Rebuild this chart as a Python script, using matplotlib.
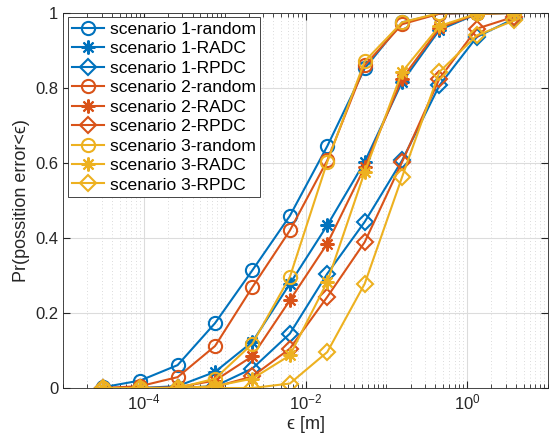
import numpy as np
import matplotlib
matplotlib.use('Agg')
import matplotlib.pyplot as plt
from matplotlib.ticker import FixedLocator, LogLocator, NullFormatter

plt.rcParams['font.family'] = ['Liberation Sans', 'DejaVu Sans']
plt.rcParams['mathtext.fontset'] = 'custom'
plt.rcParams['mathtext.rm'] = 'Liberation Sans'
plt.rcParams['mathtext.it'] = 'Liberation Sans:italic'

# error thresholds where the markers sit [m]
eps = [3.1e-5, 9.0e-5, 2.61e-4, 7.59e-4, 2.2e-3, 6.4e-3,
       1.86e-2, 5.4e-2, 0.157, 0.455, 1.32, 3.84]

s1_random = [0.002, 0.02, 0.061, 0.173, 0.314, 0.459, 0.645, 0.852, 0.975, 0.998, 1.0, 1.0]
s1_radc   = [0.0, 0.0, 0.005, 0.043, 0.123, 0.278, 0.434, 0.603, 0.816, 0.955, 0.997, 1.0]
s1_rpdc   = [0.0, 0.0, 0.0, 0.005, 0.052, 0.145, 0.305, 0.443, 0.607, 0.807, 0.936, 0.985]
s2_random = [0.0, 0.005, 0.029, 0.112, 0.269, 0.42, 0.607, 0.86, 0.97, 0.998, 1.0, 1.0]
s2_radc   = [0.0, 0.0, 0.002, 0.02, 0.085, 0.234, 0.385, 0.589, 0.825, 0.96, 0.997, 1.0]
s2_rpdc   = [0.0, 0.0, 0.0, 0.003, 0.031, 0.105, 0.243, 0.389, 0.603, 0.825, 0.958, 0.99]
s3_random = [0.0, 0.0, 0.0, 0.025, 0.118, 0.296, 0.603, 0.871, 0.975, 1.0, 1.0, 1.0]
s3_radc   = [0.0, 0.0, 0.0, 0.005, 0.025, 0.087, 0.283, 0.576, 0.843, 0.965, 0.998, 1.0]
s3_rpdc   = [0.0, 0.0, 0.0, 0.0, 0.0, 0.012, 0.096, 0.278, 0.563, 0.843, 0.94, 0.98]

series = [
    ('scenario 1-random', s1_random, 'o', 0),
    ('scenario 1-RADC', s1_radc, '*', 0),
    ('scenario 1-RPDC', s1_rpdc, 'D', 0),
    ('scenario 2-random', s2_random, 'o', 1),
    ('scenario 2-RADC', s2_radc, '*', 1),
    ('scenario 2-RPDC', s2_rpdc, 'D', 1),
    ('scenario 3-random', s3_random, 'o', 2),
    ('scenario 3-RADC', s3_radc, '*', 2),
    ('scenario 3-RPDC', s3_rpdc, 'D', 2),
]
colors = [(0, 0.447, 0.741), (0.85, 0.325, 0.098), (0.929, 0.694, 0.125)]

fig = plt.figure(figsize=(5.49, 4.46), dpi=100)
ax = fig.add_axes([0.115, 0.130, 0.883, 0.841])

for name, vals, mk, ci in series:
    if mk == 'o':
        m, ms = 'o', 9.5
    elif mk == '*':
        m, ms = (8, 2, 0), 10   # matlab style asterisk
    else:
        m, ms = 'D', 8
    ax.plot(eps, vals, marker=m, color=colors[ci], lw=1.5, ms=ms,
            mfc='none', mew=1.5, label=name)

ax.set_xscale('log')
ax.set_xlim(1e-5, 10)
ax.set_ylim(0, 1)
ax.xaxis.set_major_locator(FixedLocator([1e-4, 1e-2, 1e0]))
ax.xaxis.set_minor_locator(LogLocator(base=10, subs=np.arange(1, 10), numticks=20))
ax.xaxis.set_minor_formatter(NullFormatter())
ax.set_yticks([0, 0.2, 0.4, 0.6, 0.8, 1])
ax.set_yticklabels(['0', '0.2', '0.4', '0.6', '0.8', '1'])

ax.grid(True, which='major', color='#dcdcdc', lw=0.8)
ax.grid(True, which='minor', axis='x', color='#cfcfcf', lw=0.6, ls=(0, (1, 3)))
ax.set_axisbelow(True)
ax.tick_params(which='both', direction='in', top=True, right=True, labelsize=12,
               color='#262626', labelcolor='#262626')
ax.tick_params(which='major', length=5)
ax.tick_params(which='minor', length=3)
for sp in ax.spines.values():
    sp.set_linewidth(0.6)
    sp.set_color('#262626')

ax.set_xlabel('ϵ [m]', fontsize=13, color='#262626', labelpad=2)
ax.set_ylabel('Pr(possition error<ϵ)', fontsize=13, color='#262626', labelpad=4)

leg = ax.legend(loc='upper left', fontsize=12.6, frameon=True, fancybox=False,
                framealpha=1, edgecolor='#262626', handlelength=1.85,
                borderaxespad=0.25, labelspacing=0.24, handletextpad=0.3,
                borderpad=0.25)
leg.get_frame().set_linewidth(0.6)

fig.savefig('out.png', dpi=100)
